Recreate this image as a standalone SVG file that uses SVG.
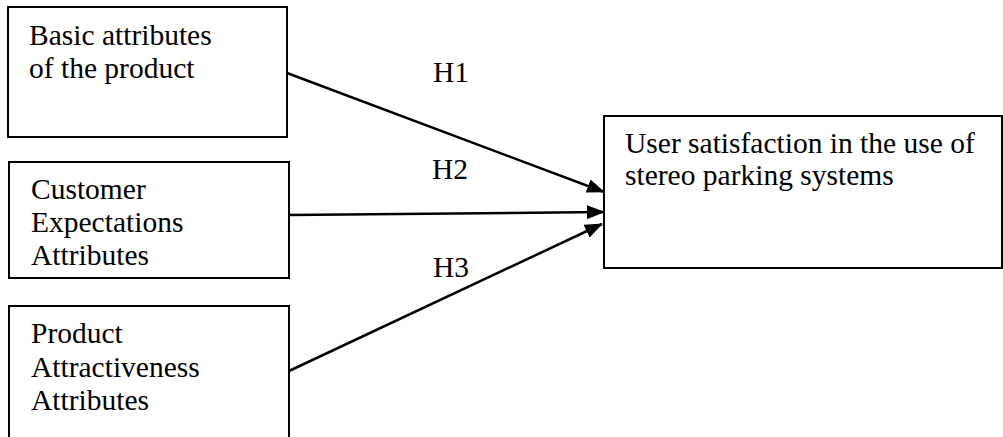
<svg xmlns="http://www.w3.org/2000/svg" width="1003" height="437" viewBox="0 0 1003 437">
<style>
.box{fill:#fff;stroke:#000;stroke-width:2}
.t{font-family:"Liberation Serif","Times New Roman",serif;font-size:29.5px;fill:#000}
.c{stroke:#000;stroke-width:2.5;fill:none;marker-end:url(#ah)}
</style>
<defs>
<marker id="ah" markerWidth="18" markerHeight="14" refX="17" refY="7" orient="auto" markerUnits="userSpaceOnUse">
<path d="M0,0 L18,7 L0,14 Z" fill="#000"/>
</marker>
</defs>
<rect width="1003" height="437" fill="#fff"/>
<g id="n1">
<rect class="box" x="8" y="7" width="279" height="130"/>
<text class="t" x="29" y="45">Basic attributes</text>
<text class="t" x="29" y="78">of the product</text>
</g>
<g id="n2">
<rect class="box" x="9" y="162" width="280" height="116"/>
<text class="t" x="31" y="199">Customer</text>
<text class="t" x="31" y="232">Expectations</text>
<text class="t" x="31" y="265">Attributes</text>
</g>
<g id="n3">
<rect class="box" x="9" y="306" width="280" height="160"/>
<text class="t" x="31" y="343">Product</text>
<text class="t" x="31" y="377">Attractiveness</text>
<text class="t" x="31" y="410">Attributes</text>
</g>
<g id="n4">
<rect class="box" x="604" y="116" width="398" height="152"/>
<text class="t" x="625" y="153">User satisfaction in the use of</text>
<text class="t" x="625" y="185">stereo parking systems</text>
</g>
<g id="connectors">
<line class="c" x1="287" y1="73" x2="604" y2="192"/>
<line class="c" x1="289" y1="215" x2="604" y2="212"/>
<line class="c" x1="289" y1="371" x2="602" y2="224"/>
<text class="t" x="433" y="82">H1</text>
<text class="t" x="432" y="179">H2</text>
<text class="t" x="433" y="277">H3</text>
</g>
</svg>
